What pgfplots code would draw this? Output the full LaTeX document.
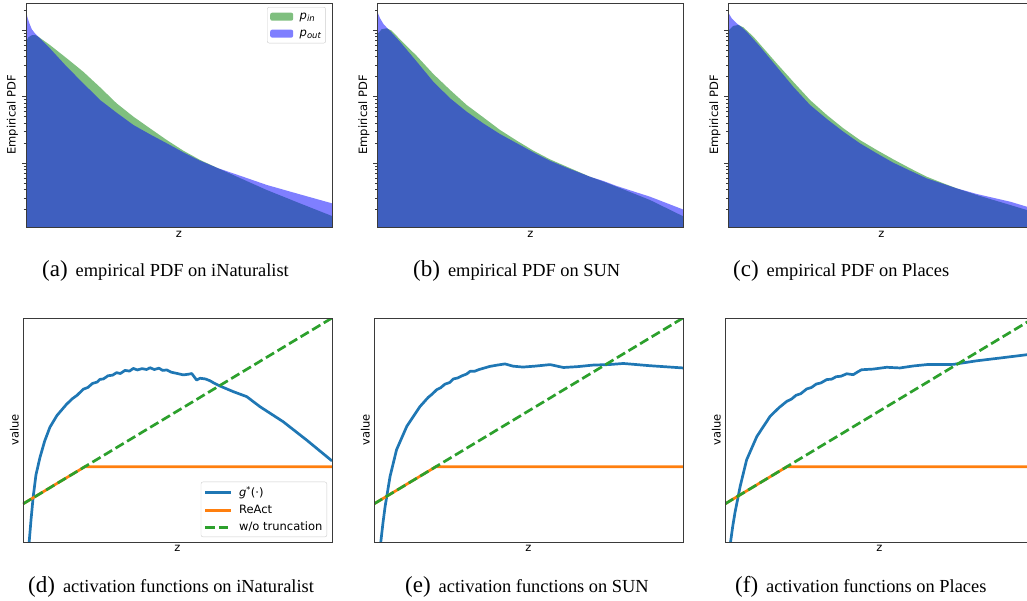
\documentclass[border=0pt]{standalone}
\usepackage{pgfplots}
\pgfplotsset{compat=1.18}
\usepackage{fontspec}
\setmainfont{DejaVu Sans}
\newfontfamily\capfont{Liberation Serif}
\definecolor{mplblue}{HTML}{1F77B4}
\definecolor{mplorange}{HTML}{FF7F0E}
\definecolor{mplgreen}{HTML}{2CA02C}
\definecolor{pin}{HTML}{008000}
\definecolor{pout}{HTML}{0000FF}
\definecolor{spine}{HTML}{3A3A3A}
\newcommand{\lblfont}{\fontsize{11.5}{13.5}\selectfont}
\newcommand{\subcap}[2]{{\capfont{\fontsize{23}{26}\selectfont (#1)}\hspace{8pt}{\fontsize{18.4}{22}\selectfont #2}}}
\newcommand{\pleg}[1]{\textit{p}{\fontsize{8.5}{9}\selectfont\raisebox{-2.5pt}{\textit{#1}}}}

\pgfplotsset{
  common/.style={
    scale only axis, axis on top,
    xmin=0, xmax=10,
    axis line style={spine, line width=0.9pt},
    tick style={spine, line width=0.8pt},
    minor tick style={spine, line width=0.6pt},
    label style={font=\lblfont},
    xlabel={z},
    xlabel style={at={(axis description cs:0.5,0)}, anchor=north, inner sep=0pt},
    legend style={font=\lblfont, draw=black!20, rounded corners=2pt, fill=white,
      fill opacity=0.8, text opacity=1, inner xsep=3pt, inner ysep=3pt,
      row sep=4pt, nodes={inner sep=1.5pt},
      /tikz/every odd column/.append style={column sep=5pt}},
    legend cell align=left,
  },
  pdfax/.style={common,
    width=306pt, height=224pt, ymin=0, ymax=3.368,
    xtick=\empty, ytick={0.96,1.96,2.96},
    minor ytick={0.261,0.437,0.562,0.659,0.738,0.805,0.863,0.914,
                 1.261,1.437,1.562,1.659,1.738,1.805,1.863,1.914,
                 2.261,2.437,2.562,2.659,2.738,2.805,2.863,2.914,3.261},
    yticklabels={}, ytick pos=left, tick align=outside,
    major tick length=4pt, minor tick length=2.3pt,
    ylabel={Empirical PDF},
    xlabel style={yshift=-4pt},
    ylabel style={at={(axis description cs:-0.044,0.5)}, anchor=center, inner sep=0pt},
  },
  actax/.style={common,
    width=309pt, height=224pt, ymin=0, ymax=10,
    xtick=\empty, ytick=\empty,
    ylabel={value},
    xlabel style={yshift=-3pt},
    ylabel style={at={(axis description cs:-0.028,0.5)}, anchor=center, inner sep=0pt},
  },
  pinst/.style={draw=none, fill=pin, fill opacity=0.5,
    legend image code/.code={\fill[##1] (0pt,-4pt) rectangle (23pt,4pt);}},
  poutst/.style={draw=none, fill=pout, fill opacity=0.5,
    legend image code/.code={\fill[##1] (0pt,-4pt) rectangle (23pt,4pt);}},
  gst/.style={mplblue, line width=2.7pt, line join=round,
    legend image code/.code={\draw[##1] (0pt,0pt) -- (26pt,0pt);}},
  rst/.style={mplorange, line width=2.7pt,
    legend image code/.code={\draw[##1] (0pt,0pt) -- (26pt,0pt);}},
  wst/.style={mplgreen, line width=2.7pt, dash pattern=on 9.5pt off 4pt,
    legend image code/.code={\draw[##1] (0pt,0pt) -- (26pt,0pt);}},
}

\begin{document}
\begin{tikzpicture}
\path[use as bounding box] (0,0) rectangle (1027pt,600pt);
\clip (0,0) rectangle (1027pt,600pt);

% (a) iNaturalist PDF
\begin{axis}[pdfax, at={(26pt,373pt)}, anchor=south west,
  legend style={at={(0.980,0.982)}, anchor=north east, row sep=6pt, inner ysep=4pt}]
\addplot[pinst] coordinates {(0,2.787)(0.08,2.853)(0.19,2.883)(0.29,2.887)(0.40,2.862)(0.78,2.737)(1.33,2.537)(1.87,2.335)(2.42,2.101)(2.96,1.86)(3.51,1.659)(4.05,1.484)(4.60,1.308)(5.14,1.148)(5.69,1.008)(6.28,0.883)(6.77,0.782)(7.87,0.556)(8.95,0.356)(10,0.165)} \closedcycle;
\addlegendentry{\pleg{in}}
\addplot[poutst] coordinates {(0,3.263)(0.04,3.163)(0.11,3.063)(0.19,2.973)(0.29,2.913)(0.40,2.862)(0.78,2.687)(1.33,2.411)(1.87,2.161)(2.42,1.91)(2.96,1.719)(3.51,1.534)(4.05,1.394)(4.60,1.259)(5.14,1.123)(5.69,0.997)(6.28,0.883)(6.77,0.807)(7.87,0.632)(8.95,0.491)(10,0.356)} \closedcycle;
\addlegendentry{\pleg{out}}
\end{axis}

% (b) SUN PDF
\begin{axis}[pdfax, at={(377.3pt,373pt)}, anchor=south west]
\addplot[pinst] coordinates {(0,2.85)(0.03,2.913)(0.14,2.973)(0.31,2.988)(0.47,2.952)(0.74,2.822)(1.29,2.571)(1.83,2.301)(2.38,2.060)(2.92,1.835)(3.46,1.65)(4.01,1.459)(4.56,1.298)(5.10,1.148)(5.64,1.018)(6.19,0.907)(6.95,0.756)(7.39,0.682)(7.82,0.606)(8.91,0.406)(10,0.160)} \closedcycle;
\addplot[poutst] coordinates {(0,3.238)(0.09,3.138)(0.20,3.053)(0.33,2.988)(0.47,2.922)(0.74,2.787)(1.29,2.486)(1.83,2.185)(2.38,1.935)(2.92,1.734)(3.46,1.559)(4.01,1.398)(4.56,1.259)(5.10,1.123)(5.64,0.997)(6.19,0.892)(6.95,0.756)(7.39,0.692)(7.82,0.617)(8.91,0.456)(10,0.262)} \closedcycle;
\end{axis}

% (c) Places PDF
\begin{axis}[pdfax, at={(728.3pt,373pt)}, anchor=south west]
\addplot[pinst] coordinates {(0,2.90)(0.03,2.962)(0.16,3.023)(0.33,3.038)(0.49,3.003)(0.82,2.862)(1.58,2.461)(2.12,2.185)(2.67,1.910)(3.22,1.684)(3.76,1.484)(4.30,1.308)(4.85,1.158)(5.39,1.018)(5.94,0.883)(6.48,0.757)(7.03,0.657)(7.46,0.582)(8.12,0.481)(9.21,0.331)(9.75,0.256)(10,0.22)} \closedcycle;
\addplot[poutst] coordinates {(0,3.223)(0.11,3.138)(0.27,3.063)(0.44,3.003)(0.60,2.937)(1.04,2.711)(1.58,2.411)(2.12,2.110)(2.67,1.835)(3.22,1.624)(3.76,1.433)(4.30,1.259)(4.85,1.108)(5.39,0.967)(5.94,0.847)(6.48,0.732)(7.03,0.647)(7.46,0.582)(8.12,0.496)(9.21,0.381)(9.75,0.306)(10,0.28)} \closedcycle;
\end{axis}

% (d) iNaturalist activation
\begin{axis}[actax, at={(23pt,58pt)}, anchor=south west,
  legend style={at={(0.984,0.022)}, anchor=south east}]
\addplot[gst] coordinates {(0.15,-0.5)(0.20,0.00)(0.26,1.00)(0.33,2.02)(0.42,3.00)(0.55,3.78)(0.70,4.50)(0.87,5.12)(1.10,5.65)(1.41,6.15)(1.60,6.40)(1.75,6.55)(1.95,6.82)(2.10,6.90)(2.25,7.08)(2.40,7.14)(2.49,7.26)(2.60,7.28)(2.75,7.42)(2.90,7.45)(3.03,7.56)(3.15,7.52)(3.30,7.66)(3.45,7.63)(3.57,7.75)(3.70,7.68)(3.85,7.74)(4.00,7.70)(4.11,7.78)(4.25,7.70)(4.40,7.76)(4.52,7.66)(4.65,7.68)(4.80,7.58)(5.00,7.52)(5.19,7.46)(5.35,7.49)(5.46,7.52)(5.62,7.23)(5.73,7.31)(5.90,7.28)(6.05,7.20)(6.20,7.08)(6.38,6.96)(6.81,6.71)(7.24,6.49)(7.67,6.04)(8.42,5.37)(9.18,4.55)(10.0,3.62)};
\addlegendentry{\textit{g}\textsuperscript{*}(·)}
\addplot[rst] coordinates {(0,1.70)(2.0,3.36)(10,3.36)};
\addlegendentry{ReAct}
\addplot[wst] coordinates {(0,1.70)(10,10.0)};
\addlegendentry{w/o truncation}
\end{axis}

% (e) SUN activation
\begin{axis}[actax, at={(374pt,58pt)}, anchor=south west]
\addplot[gst] coordinates {(0.17,-0.5)(0.22,0.00)(0.29,0.85)(0.36,1.59)(0.52,2.93)(0.73,4.12)(1.06,5.16)(1.49,6.05)(1.62,6.25)(1.75,6.45)(1.88,6.60)(2.03,6.80)(2.15,6.88)(2.30,7.05)(2.45,7.12)(2.57,7.28)(2.70,7.32)(2.85,7.42)(3.00,7.50)(3.11,7.62)(3.25,7.62)(3.40,7.70)(3.55,7.76)(3.75,7.84)(4.00,7.90)(4.24,7.95)(4.50,7.85)(4.82,7.81)(5.20,7.85)(5.70,7.92)(6.13,7.79)(6.60,7.83)(7.10,7.90)(7.60,7.92)(8.07,7.97)(8.50,7.92)(8.93,7.87)(10.0,7.77)};
\addplot[rst] coordinates {(0,1.70)(2.0,3.36)(10,3.36)};
\addplot[wst] coordinates {(0,1.70)(10,10.0)};
\end{axis}

% (f) Places activation
\begin{axis}[actax, at={(725pt,58pt)}, anchor=south west]
\addplot[gst] coordinates {(0.14,-0.5)(0.18,0.00)(0.25,0.70)(0.32,1.29)(0.49,2.48)(0.70,3.67)(1.03,4.71)(1.46,5.61)(1.75,6.00)(2.00,6.28)(2.15,6.38)(2.30,6.55)(2.45,6.62)(2.64,6.83)(2.80,6.90)(2.95,7.05)(3.10,7.10)(3.29,7.25)(3.45,7.27)(3.60,7.38)(3.75,7.40)(3.94,7.51)(4.15,7.47)(4.30,7.60)(4.42,7.69)(4.80,7.72)(5.23,7.80)(5.66,7.77)(6.10,7.86)(6.53,7.92)(7.00,7.92)(7.39,7.93)(8.15,8.09)(9.00,8.23)(9.76,8.36)(10.0,8.40)};
\addplot[rst] coordinates {(0,1.70)(2.0,3.36)(10,3.36)};
\addplot[wst] coordinates {(0,1.70)(10,10.0)};
\end{axis}

% captions
\node[anchor=base west, inner sep=0pt] at (42pt,323pt) {\subcap{a}{empirical PDF on iNaturalist}};
\node[anchor=base west, inner sep=0pt] at (413pt,323pt) {\subcap{b}{empirical PDF on SUN}};
\node[anchor=base west, inner sep=0pt] at (733pt,323pt) {\subcap{c}{empirical PDF on Places}};
\node[anchor=base west, inner sep=0pt] at (28pt,7.5pt) {\subcap{d}{activation functions on iNaturalist}};
\node[anchor=base west, inner sep=0pt] at (405pt,7.5pt) {\subcap{e}{activation functions on SUN}};
\node[anchor=base west, inner sep=0pt] at (735pt,7.5pt) {\subcap{f}{activation functions on Places}};
\end{tikzpicture}
\end{document}
